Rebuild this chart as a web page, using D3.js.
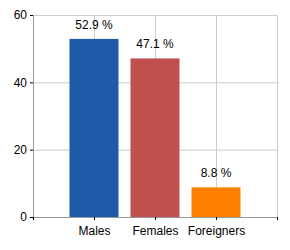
<!DOCTYPE html>
<html>
<head>
<meta charset="utf-8">
<script src="https://cdn.jsdelivr.net/npm/d3@7"></script>
<style>
  body { margin: 0; background: #fff; }
  text { font-family: "Liberation Sans", Arial, sans-serif; }
</style>
</head>
<body>
<div id="chart"></div>
<script>
const categories = ["Males", "Females", "Foreigners"];
const values = [52.9, 47.1, 8.8];
const colors = ["#1f5aa8", "#c0504d", "#ff8000"];
const yTicks = [0, 20, 40, 60];

const W = 290, H = 250;
const margin = { top: 15, right: 13, bottom: 33, left: 33 };
const width = W - margin.left - margin.right;
const height = H - margin.top - margin.bottom;

const svg = d3.select("#chart").append("svg")
  .attr("width", W)
  .attr("height", H)
  .append("g")
  .attr("transform", `translate(${margin.left},${margin.top})`);

const x = d3.scaleLinear().domain([0, categories.length + 1]).range([0, width]);
const y = d3.scaleLinear().domain([0, 60]).range([height, 0]);
const barW = 49;

// grid
svg.append("g").selectAll("line.h")
  .data(yTicks.slice(1))
  .enter().append("line")
  .attr("x1", 0).attr("x2", width)
  .attr("y1", d => y(d) + 0.5).attr("y2", d => y(d) + 0.5)
  .attr("stroke", "#cccccc");

svg.append("g").selectAll("line.v")
  .data(d3.range(1, categories.length + 2))
  .enter().append("line")
  .attr("x1", d => Math.round(x(d)) + 0.5).attr("x2", d => Math.round(x(d)) + 0.5)
  .attr("y1", 0).attr("y2", height)
  .attr("stroke", "#cccccc");

// bars
svg.selectAll(".bar")
  .data(values)
  .enter().append("rect")
  .attr("class", "bar")
  .attr("x", (d, i) => x(i + 1) - barW / 2)
  .attr("y", d => y(d))
  .attr("width", barW)
  .attr("height", d => height - y(d))
  .attr("fill", (d, i) => colors[i]);

svg.selectAll(".lbl")
  .data(values)
  .enter().append("text")
  .attr("x", (d, i) => x(i + 1))
  .attr("y", d => y(d) - 10)
  .attr("text-anchor", "middle")
  .style("font-size", "12px")
  .text(d => d.toFixed(1) + " %");

// axes
const yAxis = svg.append("g")
  .call(d3.axisLeft(y).tickValues(yTicks).tickSize(3).tickPadding(3));
yAxis.selectAll("text").style("font-size", "12px").attr("fill", "#000");
yAxis.select(".domain").attr("stroke", "#999");
yAxis.selectAll(".tick line").attr("stroke", "#000");

const xAxis = svg.append("g")
  .attr("transform", `translate(0,${height})`)
  .call(d3.axisBottom(x).tickValues(d3.range(0, categories.length + 2))
    .tickSize(3).tickPadding(6)
    .tickFormat(d => categories[d - 1] || ""));
xAxis.selectAll("text").style("font-size", "12px").attr("fill", "#000");
xAxis.select(".domain").attr("stroke", "#999");
xAxis.selectAll(".tick line").attr("stroke", "#000");
</script>
</body>
</html>
